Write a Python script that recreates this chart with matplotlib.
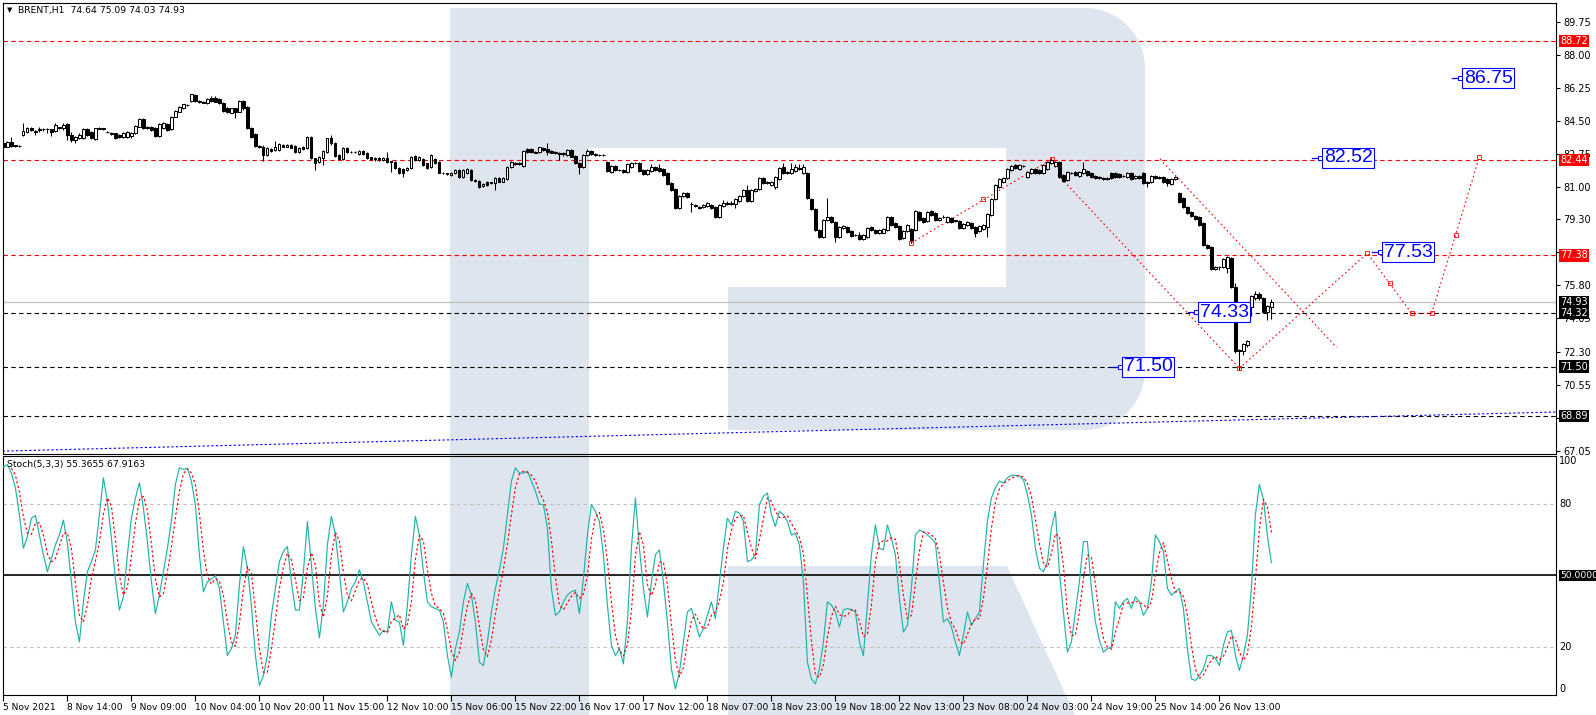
import matplotlib
matplotlib.use("Agg")
import matplotlib.pyplot as plt
from matplotlib.patches import Polygon
import numpy as np
import pandas as pd

plt.rcParams['font.family'] = ['DejaVu Sans']

# ---------------- data ----------------
opens = [
83.31,83.14,83.40,83.19,83.19,83.76,83.90,84.14,83.95,84.04,
84.06,84.05,84.06,83.97,84.14,84.11,84.32,83.76,83.49,83.58,
83.58,84.07,83.90,83.54,84.11,84.09,83.92,83.88,83.84,83.76,
83.67,83.67,83.70,83.84,84.20,84.60,84.14,84.20,84.11,83.70,
84.11,84.32,84.06,84.73,84.99,85.20,85.34,85.55,85.87,85.55,
85.52,85.43,85.73,85.73,85.66,85.43,85.17,84.94,85.17,84.99,
85.55,85.25,84.11,83.79,83.19,83.14,82.70,83.01,82.96,82.96,
83.23,83.14,83.23,83.19,82.84,83.14,83.05,83.67,82.52,82.31,
82.52,82.87,83.58,83.31,82.70,82.47,83.05,82.84,82.87,82.75,
82.91,82.82,82.57,82.47,82.52,82.45,82.52,82.34,82.34,81.99,
81.94,81.90,81.99,82.64,82.43,82.47,82.26,82.08,82.47,82.34,
81.76,81.73,81.64,81.73,81.90,81.55,81.73,81.90,81.37,81.32,
81.06,81.29,81.23,81.23,81.46,81.29,81.43,82.08,82.29,82.22,
82.12,83.00,83.00,82.87,82.87,83.05,83.00,82.93,82.84,82.82,
82.73,82.70,82.96,82.64,82.29,82.08,82.70,82.93,82.75,82.70,
82.70,82.31,81.81,82.13,81.90,81.90,81.81,82.08,82.26,82.29,
81.90,81.69,81.87,82.08,81.99,81.94,81.73,81.23,80.88,79.87,
80.53,80.70,80.12,80.05,79.96,79.93,80.00,80.05,79.96,79.43,
80.00,80.17,80.10,80.10,80.28,80.53,80.85,80.26,80.81,80.88,
81.46,81.23,81.11,81.02,81.41,82.08,81.76,81.76,81.87,81.99,
81.73,81.76,80.35,79.82,78.73,78.38,79.26,79.43,79.17,78.38,
78.82,78.87,78.69,78.46,78.46,78.23,78.38,78.87,78.73,78.55,
78.59,78.73,79.40,79.12,78.94,78.29,78.69,78.76,78.73,79.70,
79.35,79.22,79.75,79.61,79.26,79.40,79.17,79.35,79.22,79.22,
78.82,78.99,79.12,78.90,78.69,78.76,78.90,79.52,80.35,81.02,
81.29,81.46,81.90,82.17,81.94,82.11,81.51,81.76,81.94,81.90,
81.73,81.94,82.26,82.11,82.34,81.64,81.37,81.73,81.81,81.59,
81.73,81.87,81.73,81.59,81.55,81.46,81.41,81.73,81.73,81.69,
81.59,81.55,81.73,81.46,81.59,81.73,81.20,81.29,81.59,81.46,
81.51,81.41,81.16,81.41,80.70,80.40,79.96,79.70,79.47,79.40,
79.12,77.93,77.85,76.65,76.79,76.75,76.70,77.23,75.73,72.38,
72.34,72.64,74.67,75.11,75.34,75.11,74.41,74.64]
highs = [
83.40,83.44,83.67,83.23,83.23,84.37,84.20,84.18,84.02,84.20,
84.11,84.11,84.09,84.37,84.20,84.37,84.37,83.93,83.72,83.84,
84.14,84.11,83.97,84.14,84.16,84.14,83.95,83.92,83.88,83.81,
83.90,83.95,83.93,84.30,84.64,84.64,84.23,84.25,84.16,84.40,
84.42,84.37,84.78,85.08,85.30,85.41,85.38,85.95,85.91,85.59,
85.57,85.70,85.80,85.80,85.70,85.48,85.22,85.20,85.20,85.59,
85.59,85.30,84.16,83.84,83.25,83.20,83.10,83.05,83.44,83.31,
83.28,83.28,83.30,83.25,83.14,83.19,83.72,83.72,82.56,82.66,
82.96,83.62,83.76,83.36,82.75,83.10,83.10,82.91,82.91,82.96,
82.96,82.87,82.61,82.57,82.57,82.57,82.84,82.40,82.40,82.05,
81.99,82.05,82.66,82.70,82.66,82.52,82.30,82.75,82.52,82.38,
81.81,81.76,81.81,81.95,81.95,81.95,81.99,81.95,81.42,81.37,
81.20,81.34,81.28,81.51,81.51,81.51,82.10,82.38,82.34,82.34,
82.98,83.05,83.05,82.91,83.14,83.10,83.31,82.98,82.89,82.87,
82.84,83.00,83.00,82.70,82.34,82.75,83.00,82.98,82.79,82.75,
82.73,82.36,82.17,82.17,81.95,81.94,82.26,82.31,82.34,82.34,
81.94,81.94,82.22,82.13,82.22,81.99,81.78,81.28,80.93,80.58,
80.75,80.75,80.23,80.10,80.00,80.10,80.19,80.10,80.00,80.10,
80.30,80.28,80.28,80.40,80.58,80.90,81.11,80.90,80.93,81.51,
81.51,81.34,81.34,81.56,82.04,82.30,81.86,82.25,82.22,82.22,
82.22,81.81,80.40,79.87,78.78,79.31,80.40,79.48,79.22,78.92,
78.99,78.92,78.74,78.50,78.60,78.51,78.87,78.92,78.78,78.78,
78.82,79.45,79.45,79.17,78.99,78.74,79.04,78.81,79.80,79.75,
79.40,79.75,79.80,79.66,79.40,79.50,79.45,79.40,79.27,79.27,
79.10,79.22,79.17,78.95,78.99,79.04,79.62,80.40,81.16,81.46,
81.51,81.99,82.16,82.22,82.22,82.16,81.86,82.00,81.99,81.95,
82.22,82.39,82.52,82.39,82.39,81.69,81.86,81.78,81.86,81.86,
82.34,81.92,81.78,81.64,81.60,81.51,81.55,81.78,81.78,81.74,
81.64,81.78,81.78,81.64,81.64,81.78,81.34,81.64,81.64,81.60,
81.56,81.46,81.46,81.60,80.75,80.45,80.01,79.75,79.52,79.45,
79.17,77.98,77.90,76.84,76.84,77.25,77.33,77.28,75.91,72.45,
72.75,72.92,75.29,75.52,75.45,75.16,74.76,75.09]
lows = [
82.96,83.10,83.14,83.14,83.14,83.72,83.84,83.97,83.76,83.90,
83.95,83.84,83.70,83.90,84.06,84.02,83.49,83.40,83.31,83.52,
83.52,83.70,83.52,83.49,84.06,84.04,83.84,83.78,83.54,83.61,
83.61,83.61,83.58,83.79,84.16,84.09,84.07,83.97,83.65,83.65,
84.07,83.97,84.00,84.69,84.95,85.15,85.31,85.52,85.50,85.45,
85.43,85.40,85.50,85.48,85.38,84.99,84.90,84.90,84.64,84.95,
85.10,84.05,83.60,83.10,83.05,82.40,82.66,82.87,82.92,82.92,
83.10,83.10,83.05,82.80,82.80,82.96,83.01,82.48,81.90,82.26,
82.17,82.82,83.23,82.59,82.43,82.43,82.80,82.80,82.82,82.70,
82.70,82.47,82.43,82.40,82.40,82.40,82.30,81.81,81.94,81.70,
81.52,81.85,81.94,82.38,82.38,82.12,81.94,82.03,82.24,81.72,
81.68,81.62,81.60,81.69,81.50,81.50,81.69,81.32,81.25,80.97,
81.02,81.06,81.18,80.85,81.25,81.25,81.39,82.03,82.18,82.18,
82.08,82.82,82.82,82.78,82.82,82.91,82.70,82.78,82.75,82.43,
82.66,82.66,82.57,82.22,81.67,82.03,82.66,82.70,82.66,82.66,
82.66,81.82,81.76,81.85,81.85,81.76,81.76,82.03,82.22,81.82,
81.64,81.64,81.82,81.85,81.82,81.59,81.11,80.80,79.82,79.82,
80.48,80.41,79.70,79.93,79.85,79.88,79.95,79.82,79.38,79.38,
79.95,80.05,80.05,79.87,80.23,80.48,80.21,80.21,80.76,80.83,
81.18,81.18,81.06,80.88,81.36,81.71,81.71,81.71,81.82,81.90,
81.68,80.35,79.77,78.68,78.33,78.33,79.21,79.12,78.11,78.33,
78.78,78.59,78.36,78.41,78.18,78.18,78.33,78.68,78.50,78.50,
78.55,78.68,78.94,78.82,78.18,78.24,78.64,78.02,78.68,79.21,
79.12,79.17,79.47,79.21,79.21,79.35,79.12,79.12,79.17,78.77,
78.77,78.94,78.77,78.38,78.64,78.71,78.38,79.47,80.30,80.97,
81.24,81.41,81.85,81.94,81.90,82.06,81.46,81.71,81.68,81.68,
81.68,81.90,82.22,82.06,81.50,81.29,81.32,81.68,81.59,81.55,
81.68,81.59,81.46,81.41,81.41,81.36,81.36,81.41,81.46,81.50,
81.54,81.50,81.36,81.41,81.41,81.15,81.00,81.24,81.41,81.41,
81.24,81.05,81.11,81.36,80.18,79.91,79.56,79.42,79.24,78.94,
77.88,77.71,76.60,76.60,76.61,76.70,76.44,75.68,72.20,71.32,
72.10,72.55,74.20,75.05,75.05,74.36,73.97,74.03]
closes = [
83.14,83.40,83.19,83.19,83.17,83.97,84.14,84.02,83.93,84.06,
84.05,84.06,83.93,84.28,84.14,84.28,83.76,83.49,83.67,83.76,
84.07,83.76,83.58,84.11,84.09,84.11,83.90,83.81,83.61,83.67,
83.84,83.90,83.84,84.25,84.60,84.14,84.18,84.02,83.70,84.32,
84.37,84.02,84.73,85.03,85.25,85.38,85.36,85.91,85.55,85.48,
85.47,85.66,85.55,85.52,85.43,85.03,84.95,85.17,84.95,85.55,
85.17,84.11,83.67,83.19,83.14,82.70,83.05,82.91,83.14,83.26,
83.14,83.23,83.09,82.84,83.09,83.01,83.67,82.52,82.26,82.61,
82.91,83.58,83.31,82.64,82.47,83.05,82.84,82.87,82.86,82.91,
82.75,82.52,82.47,82.52,82.45,82.52,82.34,82.34,81.99,81.76,
81.73,81.99,82.61,82.43,82.61,82.17,81.99,82.70,82.29,81.76,
81.73,81.67,81.76,81.90,81.55,81.90,81.94,81.37,81.30,81.02,
81.16,81.11,81.23,81.46,81.29,81.46,82.05,82.34,82.22,82.29,
82.93,82.87,82.87,82.82,83.10,82.96,82.87,82.82,82.79,82.73,
82.79,82.96,82.61,82.26,82.08,82.70,82.93,82.75,82.70,82.70,
82.69,81.87,82.13,81.90,81.90,81.81,82.22,82.26,82.29,81.87,
81.69,81.90,82.08,81.90,81.87,81.64,81.16,80.85,79.87,80.53,
80.70,80.46,80.10,79.98,79.90,80.05,80.14,79.87,79.43,80.05,
80.17,80.10,80.17,80.35,80.53,80.85,80.26,80.85,80.88,81.46,
81.23,81.29,81.29,81.51,81.99,81.76,81.81,81.94,82.04,81.94,
82.08,80.40,79.82,78.73,78.38,79.26,79.43,79.17,78.38,78.87,
78.94,78.64,78.41,78.45,78.23,78.46,78.82,78.73,78.55,78.73,
78.76,79.40,78.99,78.87,78.23,78.69,78.99,78.20,79.75,79.26,
79.17,79.70,79.52,79.26,79.35,79.40,79.40,79.17,79.22,78.82,
79.05,79.17,78.82,78.55,78.94,78.99,79.57,80.35,81.11,81.41,
81.46,81.94,82.11,81.99,82.17,82.11,81.81,81.94,81.73,81.73,
82.17,82.34,82.43,82.34,81.55,81.34,81.81,81.73,81.64,81.81,
81.94,81.64,81.51,81.46,81.46,81.41,81.50,81.46,81.51,81.55,
81.59,81.73,81.41,81.59,81.46,81.20,81.29,81.59,81.46,81.55,
81.29,81.20,81.41,81.51,80.23,79.96,79.61,79.47,79.29,78.99,
77.93,77.76,76.65,76.79,76.75,77.20,77.28,75.73,72.34,72.34,
72.70,72.87,75.24,75.34,75.11,74.41,74.71,74.93]

stoch_k = [
95.5,96.6,93.0,86.8,75.5,61.4,66.3,74.0,75.2,67.0,
58.6,51.5,57.0,62.8,67.0,73.2,63.5,47.3,30.4,22.0,
38.9,51.5,55.8,60.7,75.5,91.0,81.1,65.6,48.7,35.4,
41.0,58.6,74.0,82.5,88.9,78.3,64.2,47.3,33.9,41.7,
51.5,61.4,72.7,88.2,95.2,94.5,94.9,89.6,79.7,58.6,
43.1,47.3,48.5,49.9,44.5,30.4,16.3,19.2,24.8,45.9,62.1,
53.0,37.5,16.3,3.7,7.9,16.3,33.2,44.5,55.8,60.0,
62.1,47.3,35.4,35.4,51.5,72.7,54.4,36.1,23.7,37.5,
62.8,74.8,67.0,51.5,34.6,38.9,44.5,47.3,52.3,47.3,
38.9,30.4,27.6,24.8,26.9,26.2,38.9,31.1,30.4,20.6,
37.5,58.6,74.8,67.0,51.5,38.9,36.8,36.0,35.4,30.4,16.3,
7.2,19.2,26.2,38.9,46.6,41.7,30.4,13.5,12.1,22.0,
34.6,44.5,52.3,61.4,75.5,89.6,95.2,93.0,93.0,93.8,
89.6,85.4,80.0,79.7,69.9,44.5,33.2,34.6,38.9,41.7,
43.1,43.8,33.9,48.7,67.0,79.7,76.9,72.7,58.6,37.5,
20.6,16.3,19.2,12.8,30.4,61.4,82.5,
61.4,44.5,32.5,47.3,58.6,60.7,47.3,30.4,10.7,2.3,
9.3,22.0,34.6,36.1,30.4,24.1,27.6,33.2,38.9,31.8,
47.3,61.4,74.0,71.2,76.9,76.2,72.7,55.8,56.5,58.6,
79.7,83.2,84.6,75.5,70.6,76.9,75.5,72.7,67.0,67.7,
62.8,47.3,13.5,6.5,4.4,10.7,22.0,38.9,37.5,34.6,
28.3,35.4,36.1,35.5,34.6,22.0,16.3,37.5,58.6,71.2,61.4,
60.7,71.2,65.6,58.6,40.3,26.2,29.0,44.5,67.0,69.0,
68.3,67.0,65.6,63.5,47.3,30.4,31.8,28.3,22.0,16.3,
24.8,34.6,29.0,31.8,34.6,54.4,72.7,82.5,86.8,89.6,
88.9,91.0,92.1,92.0,91.7,90.3,83.9,75.5,61.4,53.0,51.5,
55.8,69.9,76.9,51.5,34.6,17.7,22.0,34.6,47.3,64.2,
64.2,44.5,30.4,22.7,17.7,19.2,19.9,38.9,36.1,38.9,
40.3,36.1,41.0,38.9,33.2,36.1,47.3,67.0,64.2,60.0,
44.5,41.7,43.0,44.5,36.1,19.2,6.5,5.8,7.9,10.7,16.3,
16.3,15.2,12.1,20.6,26.2,26.9,16.3,10.0,16.3,24.8,
44.5,75.5,88.2,82.0,66.5,55.37]

price_ticks = [89.75, 88.00, 86.25, 84.50, 82.75, 81.00, 79.30, 77.55,
               75.80, 74.05, 72.30, 70.55, 68.80, 67.05]
# labels hidden behind the coloured level boxes in the reference
hidden_ticks = [77.55, 68.80]
red_levels = [88.72, 82.44, 77.38]
black_levels = [74.32, 71.50, 68.89]
bid_level = 74.93
time_labels = ["5 Nov 2021", "8 Nov 14:00", "9 Nov 09:00", "10 Nov 04:00",
               "10 Nov 20:00", "11 Nov 15:00", "12 Nov 10:00", "15 Nov 06:00",
               "15 Nov 22:00", "16 Nov 17:00", "17 Nov 12:00", "18 Nov 07:00",
               "18 Nov 23:00", "19 Nov 18:00", "22 Nov 13:00", "23 Nov 08:00",
               "24 Nov 03:00", "24 Nov 19:00", "25 Nov 14:00", "26 Nov 13:00"]
time_label_bars = [0, 16, 32, 48, 64, 80, 96, 112, 128, 144, 160, 176,
                   192, 208, 224, 240, 256, 272, 288, 304]

trend_bars = [-0.2, 388.1]
trend_prices = [67.03, 69.10]
rise_bars = [226.9, 262.15]
rise_prices = [78.03, 82.49]
chan_low_bars = [263.65, 309.0]
chan_low_prices = [81.64, 71.41]
chan_up_bars = [289.15, 333.3]
chan_up_prices = [82.49, 72.52]
fc_bars = [309.0, 340.97, 352.07, 357.07, 368.97]
fc_prices = [71.41, 77.50, 74.32, 74.32, 82.58]
mark_bars = [226.9, 244.9, 262.15, 309.0, 340.97, 346.65, 352.07, 357.07, 363.15, 368.97]
mark_prices = [78.03, 80.36, 82.49, 71.41, 77.50, 75.92, 74.32, 74.32, 78.46, 82.58]

box_labels = ["86.75", "82.52", "77.53", "74.33", "71.50"]
box_bars = [364.65, 329.65, 344.65, 298.65, 279.65]
box_prices = [86.75, 82.54, 77.55, 74.37, 71.50]

# ---------------- figure ----------------
W, H = 1596, 715
fig = plt.figure(figsize=(W / 100, H / 100), dpi=100, facecolor='white')


def frac(l, t, r, b):
    return [l / W, 1 - b / H, (r - l) / W, (b - t) / H]


# background with the watermark logo (pixel coordinates)
bg = fig.add_axes([0, 0, 1, 1], zorder=0)
bg.set_xlim(0, W)
bg.set_ylim(H, 0)
bg.axis('off')
wm = '#dee5ef'


def arc(cx, cy, r, a0, a1, n=20):
    t = np.radians(np.linspace(a0, a1, n))
    return list(zip(cx + r * np.cos(t), cy + r * np.sin(t)))


outer = [(450, 8), (1085, 8)] + arc(1085, 68, 60, -90, 0) + [(1145, 370)] + \
        arc(1085, 370, 60, 0, 90) + [(728, 430), (728, 287), (1006, 287),
                                     (1006, 148), (589, 148), (589, 715), (450, 715)]
bg.add_patch(Polygon(outer, closed=True, facecolor=wm, edgecolor='none'))
bg.add_patch(Polygon([(728, 566), (1007, 566), (1075, 715), (728, 715)],
                     closed=True, facecolor=wm, edgecolor='none'))

FS = 7

# ---------------- main price panel ----------------
ax = fig.add_axes(frac(2.5, 3, 1556, 454), zorder=2)
ax.set_facecolor('none')
ax.set_xlim(-0.225, 388.15)
ax.set_ylim(66.877, 90.739)
for s in ax.spines.values():
    s.set_color('black')
    s.set_linewidth(0.8)

o = np.array(opens); h = np.array(highs); l = np.array(lows); c = np.array(closes)
x = np.arange(len(c))
ax.vlines(x, l, h, color='black', lw=0.75, zorder=3)
bull = c >= o
bear = ~bull
hgt = np.maximum(np.abs(c - o), 0.02)
bot = np.minimum(o, c)
ax.bar(x[bull], hgt[bull], bottom=bot[bull], width=0.55, facecolor='white',
       edgecolor='black', linewidth=0.75, zorder=4)
ax.bar(x[bear], hgt[bear], bottom=bot[bear], width=0.55, facecolor='black',
       edgecolor='black', linewidth=0.75, zorder=4)

for v in red_levels:
    ax.axhline(v, color='#ff0000', lw=0.8, ls=(0, (4, 3)), zorder=2)
for v in black_levels:
    ax.axhline(v, color='black', lw=0.8, ls=(0, (4, 3)), zorder=2)
ax.axhline(bid_level, color='#c0c0c0', lw=0.9, zorder=2)
ax.plot(trend_bars, trend_prices, color='#0000ff', lw=0.8, ls=(0, (2, 2)), zorder=2)

dot = (0, (1.5, 2.5))
ax.plot(rise_bars, rise_prices, color='red', lw=0.8, ls=dot, zorder=2)
ax.plot(chan_low_bars, chan_low_prices, color='red', lw=0.8, ls=dot, zorder=2)
ax.plot(chan_up_bars, chan_up_prices, color='red', lw=0.8, ls=dot, zorder=2)
ax.plot(fc_bars, fc_prices, color='red', lw=0.8, ls=dot, zorder=2)
ax.plot(mark_bars, mark_prices, ls='none', marker='s', ms=2.2, mfc='none',
        mec='red', mew=0.6, zorder=3)

# blue price boxes
for lab, bx, by in zip(box_labels, box_bars, box_prices):
    ax.plot([bx - 2.6, bx - 0.2], [by, by], color='#0000ff', lw=0.9, zorder=6)
    ax.plot(bx - 0.5, by, marker='s', ms=2.6, mfc='white', mec='#0000ff',
            mew=0.7, zorder=7)
    ax.text(bx + 0.45, by, lab, ha='left', va='center', fontsize=14,
            family=['Liberation Sans', 'DejaVu Sans'], color='#0000ff', zorder=8,
            bbox=dict(boxstyle='square,pad=0.08', fc='white', ec='#0000ff', lw=0.8))

ax.set_xticks([])
ax.yaxis.tick_right()
ax.set_yticks(price_ticks)
ax.set_yticklabels(["" if v in hidden_ticks else f"{v:.2f}" for v in price_ticks])
ax.tick_params(axis='y', direction='out', length=3, width=0.8, labelsize=FS,
               pad=2, colors='black')

for v, colr in [(88.72, '#ff0000'), (82.44, '#ff0000'), (77.38, '#ff0000'),
                (74.93, 'black'), (74.32, 'black'), (71.50, 'black'), (68.89, 'black')]:
    ax.annotate(f"{v:.2f}", xy=(1, v), xycoords=('axes fraction', 'data'),
                xytext=(4, 0), textcoords='offset pixels', ha='left', va='center',
                fontsize=FS, color='white', annotation_clip=False, zorder=10,
                bbox=dict(boxstyle='square,pad=0.12', fc=colr, ec='none'))

# ---------------- stochastic panel ----------------
ax2 = fig.add_axes(frac(2.5, 456, 1556, 695), zorder=2)
ax2.set_facecolor('none')
ax2.set_xlim(-0.225, 388.15)
ax2.set_ylim(-0.29, 100.17)
for s in ax2.spines.values():
    s.set_color('black')
    s.set_linewidth(0.8)

k = pd.Series(stoch_k)
d = k.rolling(3).mean()
xs = np.arange(len(k))
ax2.axhline(80, color='#c0c0c0', lw=0.8, ls=(0, (3, 3)), zorder=1)
ax2.axhline(20, color='#c0c0c0', lw=0.8, ls=(0, (3, 3)), zorder=1)
ax2.axhline(50, color='black', lw=1.2, zorder=1)
ax2.plot(xs, k, color='#20b2aa', lw=0.85, zorder=3)
ax2.plot(xs, d, color='#ff0000', lw=0.85, ls=(0, (2, 2)), zorder=4)

ax2.set_yticks([])
ax2.set_xticks(time_label_bars)
ax2.set_xticklabels(time_labels)
ax2.tick_params(axis='x', direction='out', length=4, width=0.8, labelsize=6.6,
                pad=1.5, colors='black')
for lbl in ax2.get_xticklabels():
    lbl.set_horizontalalignment('left')

for v, va in [(100, 'top'), (80, 'center'), (20, 'center'), (0, 'bottom')]:
    ax2.annotate(str(v), xy=(1, v), xycoords=('axes fraction', 'data'),
                 xytext=(3, 0), textcoords='offset pixels', ha='left', va=va,
                 fontsize=FS, color='black', annotation_clip=False)
ax2.annotate("50.0000", xy=(1, 50), xycoords=('axes fraction', 'data'),
             xytext=(4, 0), textcoords='offset pixels', ha='left', va='center',
             fontsize=6.6, color='white', annotation_clip=False,
             bbox=dict(boxstyle='square,pad=0.12', fc='black', ec='none'))

# ---------------- titles ----------------
bg.text(7, 10.5, "▼", fontsize=5, va='center', ha='left', color='black', zorder=20)
bg.text(18, 10.5, "BRENT,H1  74.64 75.09 74.03 74.93", fontsize=6.7,
        va='center', ha='left', color='black', zorder=20)
fig.text(7 / W, 1 - 465 / H, "Stoch(5,3,3) 55.3655 67.9163", fontsize=6.7,
         va='center', ha='left', color='black', zorder=20)

fig.savefig("out.png", dpi=100, facecolor='white')
